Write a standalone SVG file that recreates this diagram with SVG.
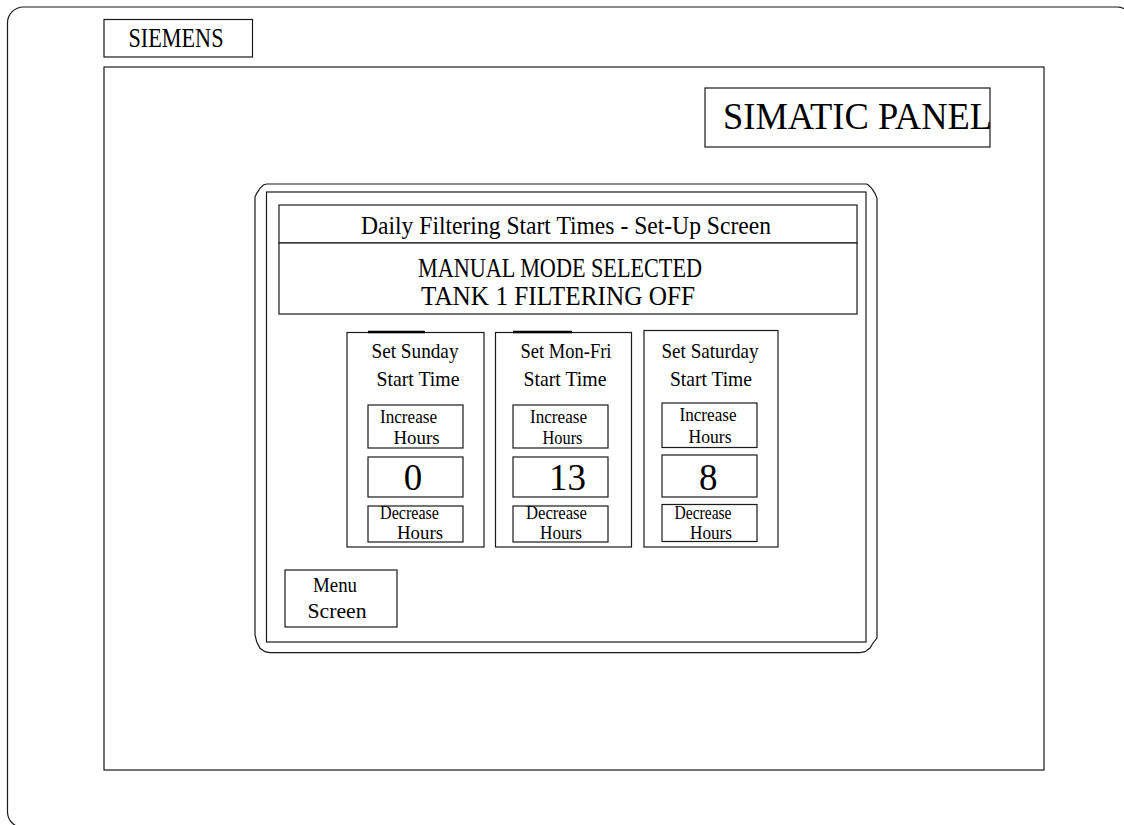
<svg xmlns="http://www.w3.org/2000/svg" width="1124" height="825" viewBox="0 0 1124 825">
<style>
.ln{fill:none;stroke:#1a1a1a;stroke-width:1.2}
.bx{fill:#fff;stroke:#1a1a1a;stroke-width:1.2}
.tk{stroke:#000;stroke-width:2.6}
text{font-family:"Liberation Serif","Times New Roman",serif;fill:#000;text-anchor:middle}
.h{font-size:21px}
.s{font-size:19px}
.d{font-size:18px}
.v{font-size:37px}
</style>
<rect width="1124" height="825" fill="#fff"/>
<g id="panel-frame">
<rect class="ln" x="7.5" y="7" width="1125.5" height="820.7" rx="16" ry="16"/>
</g>
<g id="siemens-label">
<rect class="bx" x="104" y="19.5" width="148.5" height="37.5"/>
<text x="176" y="47" font-size="27" textLength="95" lengthAdjust="spacingAndGlyphs">SIEMENS</text>
</g>
<g id="screen-area">
<rect class="ln" x="104" y="67" width="940" height="703"/>
</g>
<g id="simatic-label">
<rect class="bx" x="705" y="88" width="285" height="59"/>
<text x="723" y="129" font-size="37" style="text-anchor:start" textLength="269" lengthAdjust="spacingAndGlyphs">SIMATIC PANEL</text>
</g>
<g id="hmi-screen">
<path class="ln" d="M255 197 L256.7 193.3 L260 188.3 L263.3 185 L266.7 184 L866.7 184 L868.3 185 L871.7 188.3 L875 193.3 L877 198.3 L877 638 L873 643 L870 648 L865 651.7 L860 652.7 L270 652.7 L265 651.7 L260 648.3 L256.7 641.7 L255 635 Z"/>
<rect class="ln" x="266.5" y="192" width="599.5" height="450"/>
</g>
<g id="header">
<rect class="bx" x="279" y="205" width="578" height="38"/>
<text x="566" y="234" font-size="26" textLength="410" lengthAdjust="spacingAndGlyphs">Daily Filtering Start Times - Set-Up Screen</text>
</g>
<g id="status">
<rect class="bx" x="279" y="243" width="578" height="71"/>
<text x="560" y="277" font-size="28" textLength="284" lengthAdjust="spacingAndGlyphs">MANUAL MODE SELECTED</text>
<text x="558" y="305" font-size="28" textLength="274" lengthAdjust="spacingAndGlyphs">TANK 1 FILTERING OFF</text>
</g>
<g id="sunday">
<rect class="bx" x="347" y="332.5" width="137" height="214.5"/>
<line class="tk" x1="368" y1="332" x2="425" y2="332"/>
<text class="h" x="415" y="358" textLength="87" lengthAdjust="spacingAndGlyphs">Set Sunday</text>
<text class="h" x="418" y="386" textLength="83" lengthAdjust="spacingAndGlyphs">Start Time</text>
<g id="sunday-increase">
<rect class="bx" x="368" y="405" width="95" height="43"/>
<text class="s" x="408.5" y="423" textLength="57" lengthAdjust="spacingAndGlyphs">Increase</text>
<text class="s" x="416.5" y="444" textLength="46" lengthAdjust="spacingAndGlyphs">Hours</text>
</g>
<g id="sunday-value">
<rect class="bx" x="368" y="457" width="95" height="40"/>
<text class="v" x="413" y="490">0</text>
</g>
<g id="sunday-decrease">
<rect class="bx" x="368" y="506" width="95" height="36"/>
<text class="d" x="409.5" y="519" textLength="59" lengthAdjust="spacingAndGlyphs">Decrease</text>
<text class="d" x="420" y="538.5" textLength="46" lengthAdjust="spacingAndGlyphs">Hours</text>
</g>
</g>
<g id="monfri">
<rect class="bx" x="495.5" y="332.5" width="136" height="214.5"/>
<line class="tk" x1="513" y1="332" x2="572" y2="332"/>
<text class="h" x="566" y="358" textLength="91" lengthAdjust="spacingAndGlyphs">Set Mon-Fri</text>
<text class="h" x="565" y="386" textLength="83" lengthAdjust="spacingAndGlyphs">Start Time</text>
<g id="monfri-increase">
<rect class="bx" x="513" y="405" width="95" height="43"/>
<text class="s" x="558.5" y="423" textLength="57" lengthAdjust="spacingAndGlyphs">Increase</text>
<text class="s" x="562.5" y="444" textLength="40" lengthAdjust="spacingAndGlyphs">Hours</text>
</g>
<g id="monfri-value">
<rect class="bx" x="513" y="457" width="95" height="40"/>
<text class="v" x="567.5" y="490">13</text>
</g>
<g id="monfri-decrease">
<rect class="bx" x="513" y="506" width="95" height="36"/>
<text class="d" x="556.5" y="519" textLength="61" lengthAdjust="spacingAndGlyphs">Decrease</text>
<text class="d" x="561" y="538.5" textLength="42" lengthAdjust="spacingAndGlyphs">Hours</text>
</g>
</g>
<g id="saturday">
<rect class="bx" x="644" y="330.5" width="134" height="216.5"/>
<text class="h" x="710" y="358" textLength="97" lengthAdjust="spacingAndGlyphs">Set Saturday</text>
<text class="h" x="711" y="386" textLength="82" lengthAdjust="spacingAndGlyphs">Start Time</text>
<g id="saturday-increase">
<rect class="bx" x="662" y="403" width="95" height="44.5"/>
<text class="s" x="708" y="421" textLength="57" lengthAdjust="spacingAndGlyphs">Increase</text>
<text class="s" x="710" y="443" textLength="43" lengthAdjust="spacingAndGlyphs">Hours</text>
</g>
<g id="saturday-value">
<rect class="bx" x="662" y="455" width="95" height="42"/>
<text class="v" x="708.3" y="490">8</text>
</g>
<g id="saturday-decrease">
<rect class="bx" x="662" y="504.5" width="95" height="37"/>
<text class="d" x="703" y="518.5" textLength="57" lengthAdjust="spacingAndGlyphs">Decrease</text>
<text class="d" x="711" y="538.5" textLength="42" lengthAdjust="spacingAndGlyphs">Hours</text>
</g>
</g>
<g id="menu-button">
<rect class="bx" x="285" y="570" width="112" height="57"/>
<text x="335" y="592" font-size="22" textLength="44" lengthAdjust="spacingAndGlyphs">Menu</text>
<text x="337" y="618" font-size="22" textLength="59" lengthAdjust="spacingAndGlyphs">Screen</text>
</g>
<g id="connectors"></g>
</svg>
